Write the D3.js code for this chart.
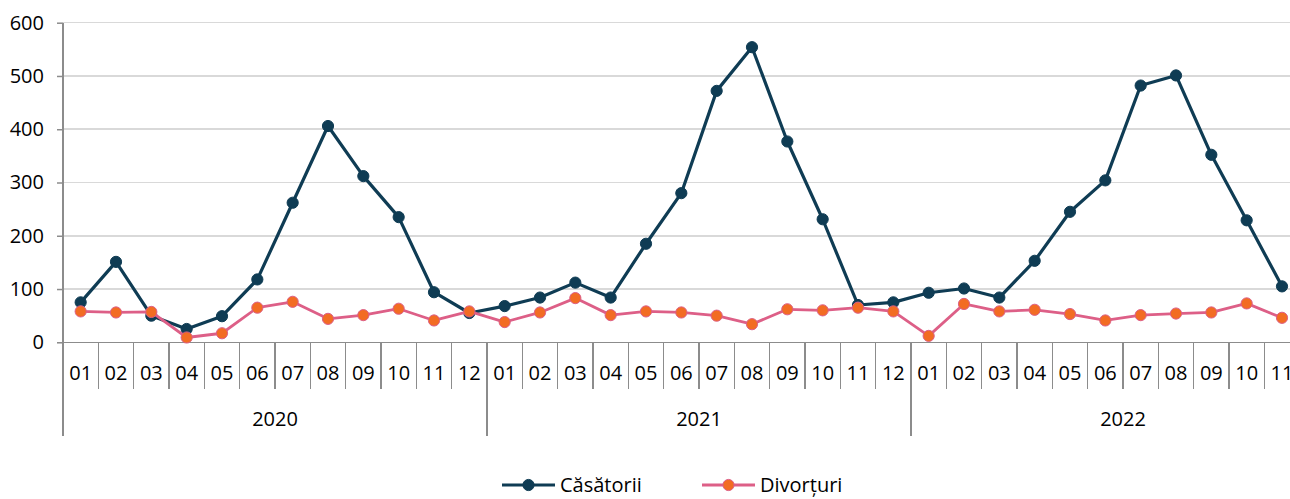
<!DOCTYPE html>
<html>
  <head>
    <meta charset='utf-8'>
    <script src='https://d3js.org/d3.v7.min.js'></script>
    <style>
body {
  margin: 0;
  background: #fff;
  font-family: 'Open Sans', sans-serif;
}
svg {
  display: block;
}
.grid line {
  stroke: #d9d9d9;
  stroke-width: 1.5;
  shape-rendering: crispEdges;
}
.axis-line {
  stroke: #8c8c8c;
  stroke-width: 1.5;
  shape-rendering: crispEdges;
}
text {
  fill: #000;
  font-size: 20px;
}
    </style>
  </head>
  <body>
    <div id='chart'></div>
    <script>
        // data, monthly counts
        var years = ['2020', '2021', '2022'];
        var months = ['01','02','03','04','05','06','07','08','09','10','11','12'];
        var monthsPerYear = [12, 12, 11];

        var casatorii = [
            75, 151, 50, 25, 49, 118, 262, 406, 312, 235, 94, 55,
            68, 84, 112, 84, 185, 280, 472, 554, 377, 231, 70, 75,
            93, 101, 84, 153, 245, 304, 482, 501, 352, 229, 105
        ];
        var divorturi = [
            58, 56, 57, 9, 17, 65, 76, 44, 51, 63, 41, 58,
            38, 56, 83, 51, 58, 56, 50, 34, 62, 60, 65, 58,
            12, 72, 58, 61, 53, 41, 51, 54, 56, 73, 46
        ];
        var yTicks = [0, 100, 200, 300, 400, 500, 600];

        var seriesNames = ['Căsătorii', 'Divorțuri'];

        const width = 1290, height = 499;
        const margin = { left: 63, top: 22.7, plotBottom: 342.3 };

        // category keys like 2020-01
        var keys = [];
        years.forEach(function(y, yi) {
            for (var m = 0; m < monthsPerYear[yi]; m++) keys.push(y + '-' + months[m]);
        });

        var svg = d3.select('#chart').append('svg')
            .attr('width', width)
            .attr('height', height);

        var bandW = (487 - margin.left) / 12;
        var x = d3.scaleBand()
            .domain(keys)
            .range([margin.left, margin.left + bandW * keys.length])
            .paddingInner(0)
            .paddingOuter(0);

        var y = d3.scaleLinear()
            .domain([0, 600])
            .range([margin.plotBottom, margin.top]);

        // horizontal gridlines
        svg.append('g')
            .attr('class', 'grid')
            .selectAll('line')
            .data(yTicks.filter(function(d) { return d > 0; }))
            .enter().append('line')
            .attr('x1', margin.left)
            .attr('x2', width + 20)
            .attr('y1', function(d) { return y(d); })
            .attr('y2', function(d) { return y(d); });

        // y axis
        var yAxis = d3.axisLeft(y)
            .tickValues(yTicks)
            .tickSize(6)
            .tickPadding(13);
        var yg = svg.append('g')
            .attr('transform', 'translate(' + margin.left + ',0)')
            .call(yAxis);
        yg.select('.domain').remove();
        yg.selectAll('.tick line').attr('stroke', '#8c8c8c').attr('stroke-width', 1.5);
        yg.selectAll('.tick text')
            .attr('font-family', "'Open Sans', sans-serif")
            .attr('font-size', 20)
            .attr('fill', '#000');

        // vertical axis line, runs down through the category area
        svg.append('line')
            .attr('class', 'axis-line')
            .attr('x1', margin.left).attr('x2', margin.left)
            .attr('y1', margin.top).attr('y2', 436);

        // x axis line
        svg.append('line')
            .attr('class', 'axis-line')
            .attr('x1', margin.left - 6).attr('x2', width + 20)
            .attr('y1', y(0)).attr('y2', y(0));

        // month separators
        var xg = svg.append('g');
        xg.selectAll('line.sep')
            .data(keys)
            .enter().append('line')
            .attr('class', 'axis-line')
            .attr('x1', function(d) { return x(d) + x.bandwidth(); })
            .attr('x2', function(d) { return x(d) + x.bandwidth(); })
            .attr('y1', y(0))
            .attr('y2', function(d) { return d.slice(5) === '12' ? 436 : 389; });

        xg.selectAll('text.month')
            .data(keys)
            .enter().append('text')
            .attr('x', function(d) { return x(d) + x.bandwidth() / 2; })
            .attr('y', 373)
            .attr('dy', '0.35em')
            .attr('text-anchor', 'middle')
            .text(function(d) { return d.slice(5); });

        // year labels centred under a full 12-month span
        xg.selectAll('text.year')
            .data(years)
            .enter().append('text')
            .attr('x', function(d) { return x(d + '-01') + bandW * 6; })
            .attr('y', 419)
            .attr('dy', '0.35em')
            .attr('text-anchor', 'middle')
            .text(function(d) { return d; });

        // series
        var series = [
            { name: seriesNames[0], values: casatorii, stroke: '#0f3c54', fill: '#0f3c54', sw: 3.2 },
            { name: seriesNames[1], values: divorturi, stroke: '#dd5f87', fill: '#f26c23', sw: 2.8 }
        ];

        var line = d3.line()
            .x(function(d, i) { return x(keys[i]) + x.bandwidth() / 2; })
            .y(function(d) { return y(d); });

        series.forEach(function(s) {
            var g = svg.append('g');
            g.append('path')
                .datum(s.values)
                .attr('d', line)
                .attr('fill', 'none')
                .attr('stroke', s.stroke)
                .attr('stroke-width', s.sw)
                .attr('stroke-linejoin', 'round');
            g.selectAll('circle')
                .data(s.values)
                .enter().append('circle')
                .attr('cx', function(d, i) { return x(keys[i]) + x.bandwidth() / 2; })
                .attr('cy', function(d) { return y(d); })
                .attr('r', 5.6)
                .attr('fill', s.fill)
                .attr('stroke', s.stroke)
                .attr('stroke-width', 1);
        });

        // legend
        var legendX = [502, 702];
        var legend = svg.append('g');
        series.forEach(function(s, i) {
            var lg = legend.append('g').attr('transform', 'translate(' + legendX[i] + ',485)');
            lg.append('line')
                .attr('x1', 0).attr('x2', 53)
                .attr('y1', 0).attr('y2', 0)
                .attr('stroke', s.stroke)
                .attr('stroke-width', s.sw);
            lg.append('circle')
                .attr('cx', 26.5).attr('cy', 0)
                .attr('r', 5.6)
                .attr('fill', s.fill)
                .attr('stroke', s.stroke)
                .attr('stroke-width', 1);
            lg.append('text')
                .attr('x', 58)
                .attr('y', 0)
                .attr('dy', '0.35em')
                .text(s.name);
        });
    </script>
  </body>
</html>
